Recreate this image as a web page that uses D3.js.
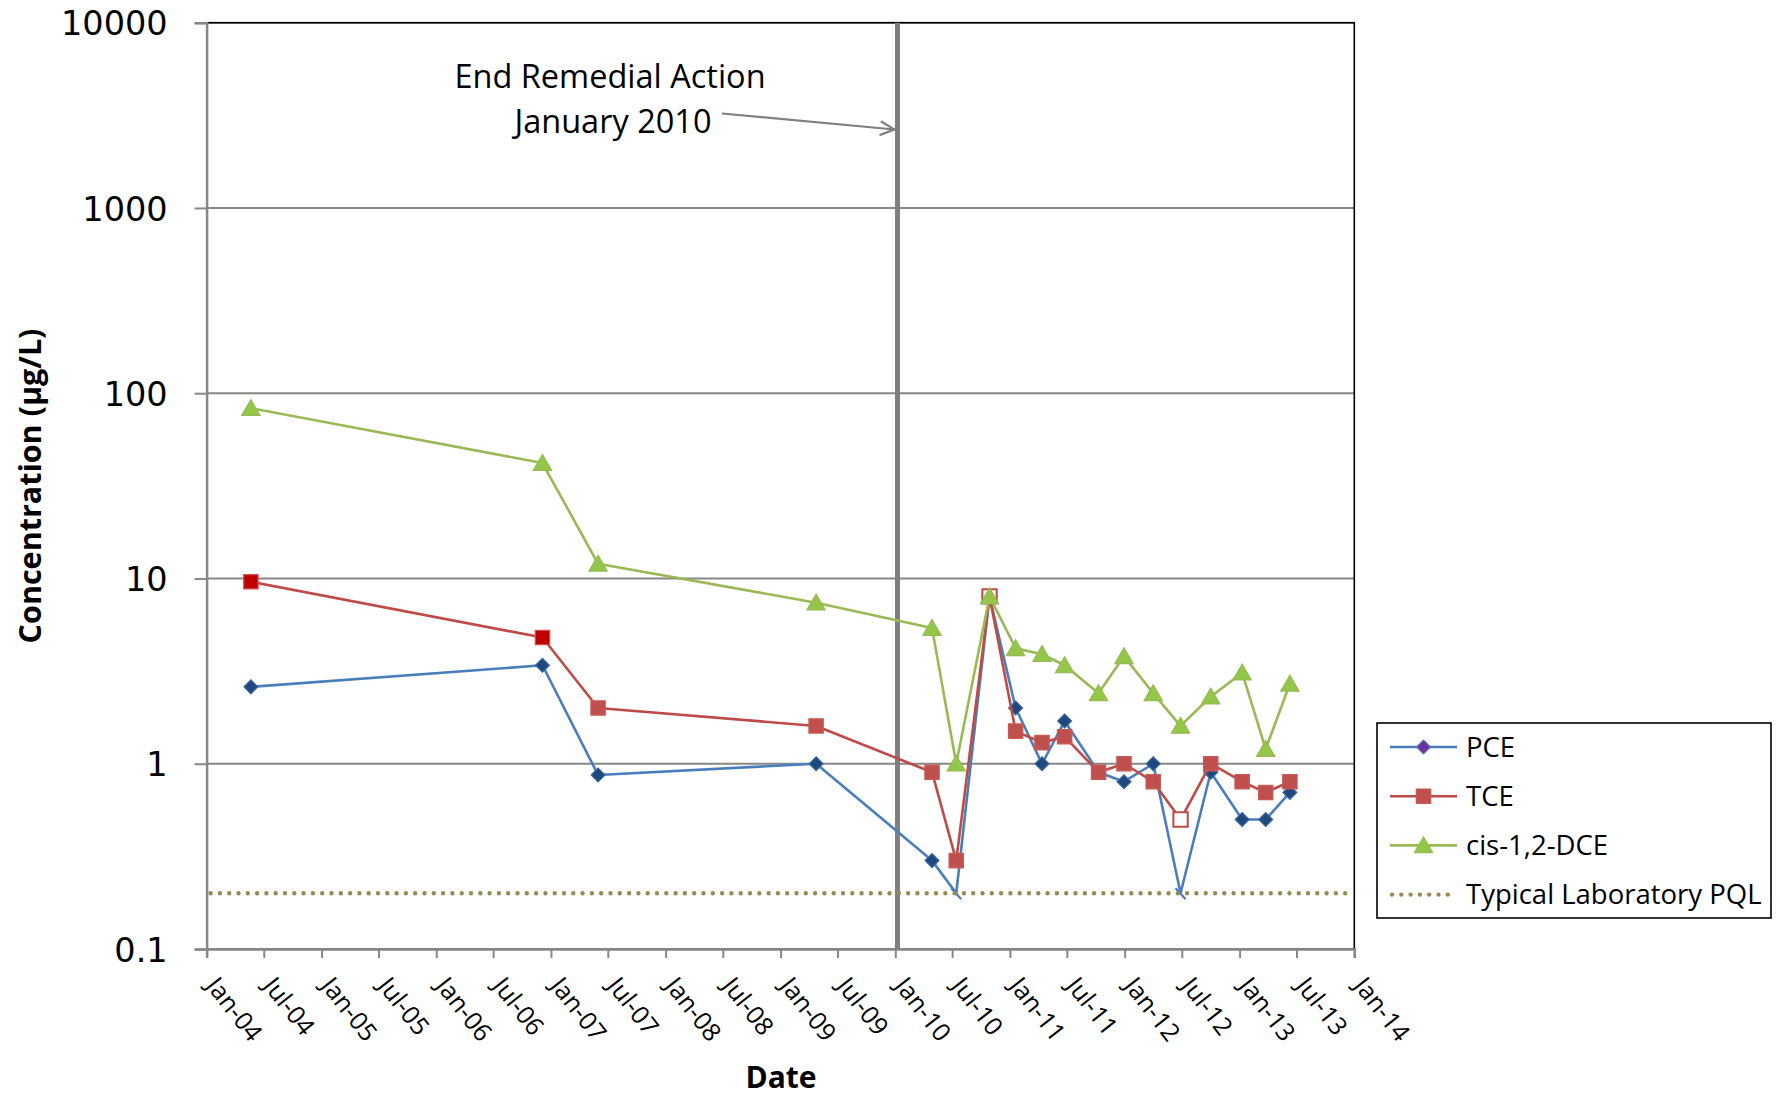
<!DOCTYPE html>
<html>
<head>
<meta charset="utf-8">
<script src="https://cdn.jsdelivr.net/npm/d3@7"></script>
<style>
  body { margin: 0; background: #ffffff; }
  text { font-family: "Open Sans", "Noto Sans", sans-serif; }
</style>
</head>
<body>
<svg id="chart" width="1780" height="1101"></svg>
<script>
// Monitoring-well sampling dates and concentrations (µg/L)
const sampleDates = [
  "2004-05-21", "2006-12-05", "2007-05-31", "2009-04-24",
  "2010-04-28", "2010-07-14", "2010-10-28", "2011-01-19",
  "2011-04-13", "2011-06-24", "2011-10-10", "2011-12-30",
  "2012-04-01", "2012-06-27", "2012-10-01", "2013-01-09",
  "2013-03-25", "2013-06-10"
];
const pceValues = [2.6, 3.4, 0.87, 1.0, 0.3, 0.2, 8, 2.0, 1.0, 1.7, 0.9, 0.8, 1.0, 0.2, 0.9, 0.5, 0.5, 0.7];
const tceValues = [9.6, 4.8, 2.0, 1.6, 0.9, 0.3, 8, 1.5, 1.3, 1.4, 0.9, 1.0, 0.8, 0.5, 1.0, 0.8, 0.7, 0.8];
const dceValues = [83, 42, 12, 7.4, 5.4, 1.0, 8, 4.2, 3.9, 3.4, 2.4, 3.8, 2.4, 1.6, 2.3, 3.1, 1.2, 2.7];

// Samples reported as not detected (drawn with hollow markers)
const pceNonDetect = [5, 6, 13];
const tceNonDetect = [6, 13];
// Early TCE results from the previous laboratory
const tceEarlyResults = [0, 1];

const pqlValue = 0.2;
const remedialEndDate = "2010-01-08";
const yTickValues = [0.1, 1, 10, 100, 1000, 10000];
const xAxisStart = "2004-01-01";
const xAxisEnd = "2014-01-01";
const seriesNames = ["PCE", "TCE", "cis-1,2-DCE", "Typical Laboratory PQL"];

const svg = d3.select("#chart");
const plotLeft = 206.6, plotRight = 1354.3, plotTop = 22.7, plotBottom = 949;

const parse = d3.timeParse("%Y-%m-%d");
const dates = sampleDates.map(parse);
const x = d3.scaleTime().domain([parse(xAxisStart), parse(xAxisEnd)]).range([plotLeft, plotRight]);
const y = d3.scaleLog().domain([0.1, 10000]).range([plotBottom, plotTop]);

const gridColor = "#878787";

// horizontal gridlines
svg.append("g").selectAll("line").data(yTickValues).join("line")
  .attr("x1", plotLeft).attr("x2", plotRight)
  .attr("y1", d => y(d)).attr("y2", d => y(d))
  .attr("stroke", gridColor).attr("stroke-width", 2);

// plot frame (top / right)
svg.append("path")
  .attr("d", `M${plotLeft},${plotTop}H${plotRight}V${plotBottom}`)
  .attr("fill", "none").attr("stroke", "#000").attr("stroke-width", 1.6);

// y axis
const yAxis = svg.append("g").attr("transform", `translate(${plotLeft},0)`)
  .call(d3.axisLeft(y).tickValues(yTickValues).tickSize(12).tickPadding(27)
    .tickFormat(d => d < 1 ? "0.1" : d3.format("d")(d)));
yAxis.select(".domain").attr("stroke", gridColor).attr("stroke-width", 2.5);
yAxis.selectAll(".tick line").attr("stroke", gridColor).attr("stroke-width", 2);
yAxis.selectAll(".tick text")
  .style("font-family", "'DejaVu Sans', sans-serif").style("font-size", "33.5px")
  .attr("fill", "#000").attr("dy", "0.36em");

// x axis: ticks every six months
const xTicks = d3.timeMonth.every(6).range(parse(xAxisStart), d3.timeDay.offset(parse(xAxisEnd), 1));
const xAxis = svg.append("g").attr("transform", `translate(0,${plotBottom})`)
  .call(d3.axisBottom(x).tickValues(xTicks).tickSize(9).tickFormat(d3.timeFormat("%b-%y")));
xAxis.select(".domain").attr("stroke", gridColor).attr("stroke-width", 2.5);
xAxis.selectAll(".tick line").attr("stroke", gridColor).attr("stroke-width", 2);
xAxis.selectAll(".tick text")
  .style("font-size", "25px").attr("fill", "#000")
  .attr("text-anchor", "start")
  .attr("y", 0).attr("dy", 0)
  .attr("transform", "translate(-2,37) rotate(52)");

// end of remedial action marker
const xEnd = x(parse(remedialEndDate));
svg.append("line")
  .attr("x1", xEnd).attr("x2", xEnd).attr("y1", plotTop).attr("y2", plotBottom)
  .attr("stroke", "#7f7f7f").attr("stroke-width", 5);

// series
const series = [
  { name: seriesNames[0], values: pceValues, line: "#4A7EBB", fill: "#1F497D", stroke: "#3466A3", shape: "diamond", nd: pceNonDetect },
  { name: seriesNames[1], values: tceValues, line: "#BE4B48", fill: "#C0504D", stroke: "#C85A57", shape: "square", nd: tceNonDetect },
  { name: seriesNames[2], values: dceValues, line: "#98B954", fill: "#92C74A", stroke: "#98B954", shape: "triangle", nd: [] }
];

const lineGen = d3.line().x(d => x(d.date)).y(d => y(d.v));

function symbolPath(shape) {
  if (shape === "diamond") return d3.symbol(d3.symbolSquare, 96)();
  if (shape === "square") return d3.symbol(d3.symbolSquare, 206)();
  return d3.symbol(d3.symbolTriangle, 145)();
}

series.forEach(s => {
  const pts = s.values.map((v, i) => ({ date: dates[i], v, i }));
  svg.append("path").datum(pts)
    .attr("d", lineGen).attr("fill", "none")
    .attr("stroke", s.line).attr("stroke-width", 2.6).attr("stroke-linejoin", "round");

  const g = svg.append("g");
  pts.forEach(p => {
    const px = x(p.date), py = y(p.v);
    const nd = s.nd.includes(p.i);
    if (s.shape === "diamond" && nd && p.v <= pqlValue) {
      // non-detect at the reporting limit: short slash
      g.append("line")
        .attr("x1", px - 5).attr("y1", py - 5).attr("x2", px + 5).attr("y2", py + 6)
        .attr("stroke", s.line).attr("stroke-width", 2.2);
      return;
    }
    let fill = nd ? "#ffffff" : s.fill;
    let stroke = nd ? s.line : s.stroke;
    if (s.shape === "square" && tceEarlyResults.includes(p.i)) { fill = "#C00000"; stroke = "#D05050"; }
    const rot = s.shape === "diamond" ? 45 : 0;
    const dy = s.shape === "triangle" ? 2 : 0;
    g.append("path")
      .attr("d", symbolPath(s.shape))
      .attr("transform", `translate(${px},${py + dy}) rotate(${rot})`)
      .attr("fill", fill).attr("stroke", stroke).attr("stroke-width", nd ? 2 : 1.2);
  });
});

// practical quantitation limit
svg.append("line")
  .attr("x1", plotLeft + 4).attr("x2", plotRight).attr("y1", y(pqlValue)).attr("y2", y(pqlValue))
  .attr("stroke", "#948A54").attr("stroke-width", 4.4)
  .attr("stroke-linecap", "round").attr("stroke-dasharray", "0 9.3");

// annotation
const note = svg.append("g");
note.append("text").attr("x", 610).attr("y", 88).attr("text-anchor", "middle")
  .style("font-size", "32.5px").attr("fill", "#000").text("End Remedial Action");
note.append("text").attr("x", 613).attr("y", 133).attr("text-anchor", "middle")
  .style("font-size", "32.5px").attr("fill", "#000").text("January 2010");
const ax0 = 722, ay0 = 113.5, ax1 = xEnd - 3, ay1 = 129.5;
const ang = Math.atan2(ay1 - ay0, ax1 - ax0);
note.append("line").attr("x1", ax0).attr("y1", ay0).attr("x2", ax1).attr("y2", ay1)
  .attr("stroke", "#808080").attr("stroke-width", 2.2);
note.append("path")
  .attr("d", `M${ax1 - 16 * Math.cos(ang - 0.45)},${ay1 - 16 * Math.sin(ang - 0.45)}L${ax1},${ay1}L${ax1 - 16 * Math.cos(ang + 0.45)},${ay1 - 16 * Math.sin(ang + 0.45)}`)
  .attr("fill", "none").attr("stroke", "#808080").attr("stroke-width", 2.2);

// axis titles
svg.append("text").attr("x", 781).attr("y", 1088).attr("text-anchor", "middle")
  .style("font-size", "30px").style("font-weight", "bold").attr("fill", "#000").text("Date");
svg.append("text").attr("transform", "translate(41,486) rotate(-90)").attr("text-anchor", "middle")
  .style("font-size", "30.5px").style("font-weight", "bold").attr("fill", "#000")
  .text("Concentration (µg/L)");

// legend
const legend = svg.append("g");
legend.append("rect").attr("x", 1377).attr("y", 723).attr("width", 394).attr("height", 195)
  .attr("fill", "#fff").attr("stroke", "#000").attr("stroke-width", 1.6);
const legendRows = [
  { name: seriesNames[0], line: "#4A7EBB", shape: "diamond", fill: "#7030A0", stroke: "#4A7EBB" },
  { name: seriesNames[1], line: "#BE4B48", shape: "square", fill: "#C0504D", stroke: "#C85A57" },
  { name: seriesNames[2], line: "#98B954", shape: "triangle", fill: "#92C74A", stroke: "#98B954" },
  { name: seriesNames[3], line: "#948A54", shape: null }
];
legendRows.forEach((r, i) => {
  const ly = 747 + i * 49.2;
  if (r.shape) {
    legend.append("line").attr("x1", 1390).attr("x2", 1457).attr("y1", ly).attr("y2", ly)
      .attr("stroke", r.line).attr("stroke-width", 2.6);
    legend.append("path").attr("d", symbolPath(r.shape))
      .attr("transform", `translate(1423.5,${ly + (r.shape === "triangle" ? 2 : 0)}) rotate(${r.shape === "diamond" ? 45 : 0})`)
      .attr("fill", r.fill).attr("stroke", r.stroke).attr("stroke-width", 1.2);
  } else {
    legend.append("line").attr("x1", 1392).attr("x2", 1457).attr("y1", ly).attr("y2", ly)
      .attr("stroke", r.line).attr("stroke-width", 4.4)
      .attr("stroke-linecap", "round").attr("stroke-dasharray", "0 9.3");
  }
  legend.append("text").attr("x", 1466).attr("y", ly).attr("dy", "0.35em")
    .style("font-size", "27.5px").attr("fill", "#000").text(r.name);
});
</script>
</body>
</html>
